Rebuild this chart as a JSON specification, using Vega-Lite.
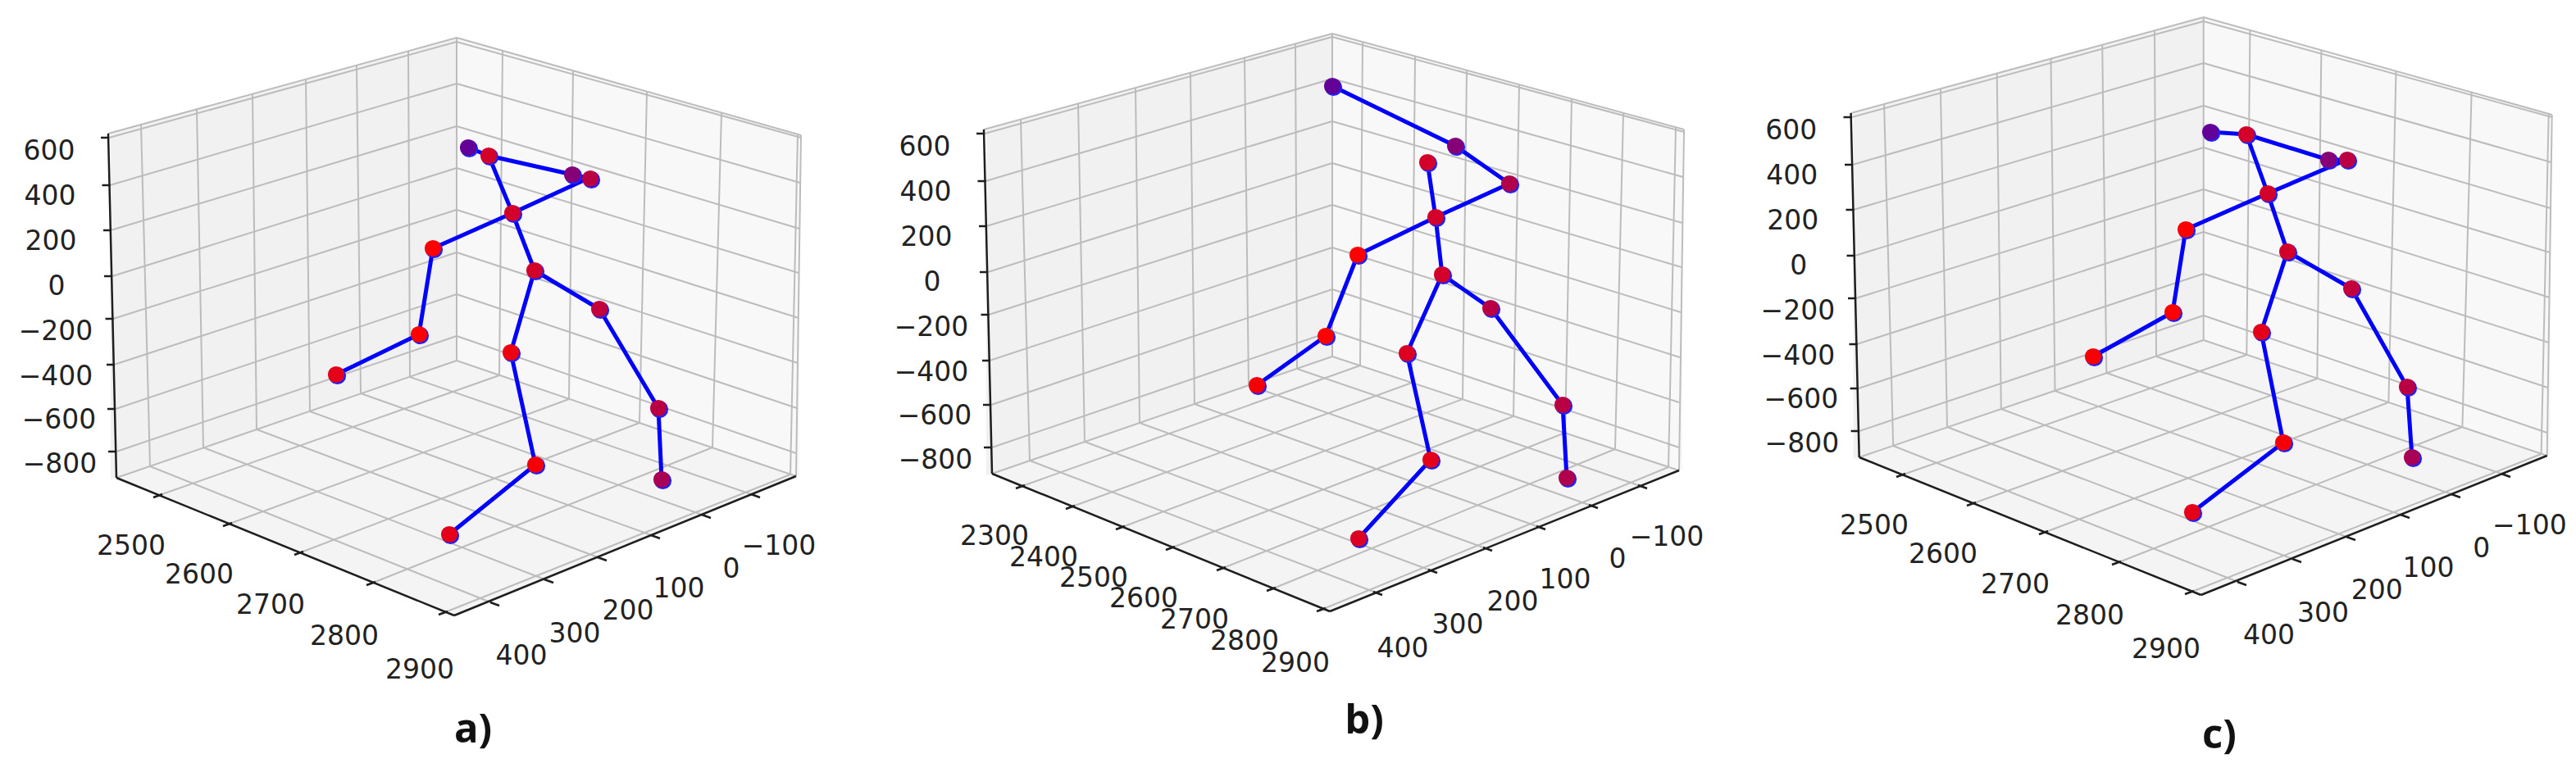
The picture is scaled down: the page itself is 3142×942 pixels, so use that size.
{
  "$schema": "https://vega.github.io/schema/vega-lite/v6.json",
  "description": "Three 3D skeleton poses (a, b, c) drawn on matplotlib-style 3D axes, projected to the page plane.",
  "width": 3142,
  "height": 942,
  "autosize": {"type": "fit", "contains": "padding"},
  "padding": 0,
  "background": "white",
  "config": {"view": {"stroke": null}},
  "datasets": {
    "panes": [
      {"panel": "a", "pane": "left", "x": 135, "y": 162, "y2": 585},
      {"panel": "a", "pane": "left", "x": 557, "y": 46, "y2": 440},
      {"panel": "a", "pane": "right", "x": 557, "y": 46, "y2": 440},
      {"panel": "a", "pane": "right", "x": 975, "y": 165, "y2": 581},
      {"panel": "a", "pane": "floor", "x": 142, "y": 583, "y2": 583},
      {"panel": "a", "pane": "floor", "x": 555, "y": 440, "y2": 751},
      {"panel": "a", "pane": "floor", "x": 971, "y": 581, "y2": 581},
      {"panel": "b", "pane": "left", "x": 1203, "y": 157, "y2": 580},
      {"panel": "b", "pane": "left", "x": 1625, "y": 41, "y2": 435},
      {"panel": "b", "pane": "right", "x": 1625, "y": 41, "y2": 435},
      {"panel": "b", "pane": "right", "x": 2052, "y": 158, "y2": 574},
      {"panel": "b", "pane": "floor", "x": 1210, "y": 578, "y2": 578},
      {"panel": "b", "pane": "floor", "x": 1623, "y": 435, "y2": 746},
      {"panel": "b", "pane": "floor", "x": 2048, "y": 574, "y2": 574},
      {"panel": "c", "pane": "left", "x": 2260.6, "y": 137, "y2": 560},
      {"panel": "c", "pane": "left", "x": 2687.7, "y": 21, "y2": 415},
      {"panel": "c", "pane": "right", "x": 2687.7, "y": 21, "y2": 415},
      {"panel": "c", "pane": "right", "x": 3110.7, "y": 140, "y2": 556},
      {"panel": "c", "pane": "floor", "x": 2267.7, "y": 558, "y2": 558},
      {"panel": "c", "pane": "floor", "x": 2685.7, "y": 415, "y2": 726},
      {"panel": "c", "pane": "floor", "x": 3106.7, "y": 556, "y2": 556}
    ],
    "grid": [
      {"panel": "a", "x": 133, "y": 168, "x2": 557, "y2": 51},
      {"panel": "a", "x": 134, "y": 226, "x2": 557, "y2": 102},
      {"panel": "a", "x": 135, "y": 281, "x2": 557, "y2": 154},
      {"panel": "a", "x": 137, "y": 337, "x2": 557, "y2": 205},
      {"panel": "a", "x": 138, "y": 389, "x2": 557, "y2": 256},
      {"panel": "a", "x": 139, "y": 445, "x2": 557, "y2": 308},
      {"panel": "a", "x": 141, "y": 499, "x2": 557, "y2": 359},
      {"panel": "a", "x": 142, "y": 551, "x2": 557, "y2": 410},
      {"panel": "a", "x": 172, "y": 152, "x2": 183, "y2": 569},
      {"panel": "a", "x": 240, "y": 133, "x2": 248, "y2": 546},
      {"panel": "a", "x": 308, "y": 115, "x2": 313, "y2": 524},
      {"panel": "a", "x": 373, "y": 97, "x2": 378, "y2": 502},
      {"panel": "a", "x": 435, "y": 80, "x2": 440, "y2": 480},
      {"panel": "a", "x": 498, "y": 62, "x2": 500, "y2": 460},
      {"panel": "a", "x": 557, "y": 46, "x2": 557, "y2": 440},
      {"panel": "a", "x": 557, "y": 51, "x2": 977, "y2": 168},
      {"panel": "a", "x": 557, "y": 102, "x2": 976, "y2": 223},
      {"panel": "a", "x": 557, "y": 154, "x2": 975, "y2": 279},
      {"panel": "a", "x": 557, "y": 205, "x2": 974, "y2": 333},
      {"panel": "a", "x": 557, "y": 256, "x2": 974, "y2": 388},
      {"panel": "a", "x": 557, "y": 308, "x2": 973, "y2": 443},
      {"panel": "a", "x": 557, "y": 359, "x2": 972, "y2": 498},
      {"panel": "a", "x": 557, "y": 410, "x2": 971, "y2": 553},
      {"panel": "a", "x": 613, "y": 62, "x2": 609, "y2": 458},
      {"panel": "a", "x": 699, "y": 86, "x2": 694, "y2": 487},
      {"panel": "a", "x": 789, "y": 112, "x2": 780, "y2": 516},
      {"panel": "a", "x": 880, "y": 138, "x2": 869, "y2": 546},
      {"panel": "a", "x": 973, "y": 164, "x2": 964, "y2": 579},
      {"panel": "a", "x": 977, "y": 165, "x2": 971, "y2": 581},
      {"panel": "a", "x": 132, "y": 163, "x2": 557, "y2": 46},
      {"panel": "a", "x": 557, "y": 46, "x2": 977, "y2": 165},
      {"panel": "a", "x": 195, "y": 604, "x2": 609, "y2": 458},
      {"panel": "a", "x": 280, "y": 639, "x2": 694, "y2": 487},
      {"panel": "a", "x": 367, "y": 674, "x2": 780, "y2": 516},
      {"panel": "a", "x": 455, "y": 711, "x2": 869, "y2": 546},
      {"panel": "a", "x": 543, "y": 747, "x2": 964, "y2": 579},
      {"panel": "a", "x": 601, "y": 736, "x2": 183, "y2": 569},
      {"panel": "a", "x": 667, "y": 708, "x2": 248, "y2": 546},
      {"panel": "a", "x": 732, "y": 681, "x2": 313, "y2": 524},
      {"panel": "a", "x": 797, "y": 654, "x2": 378, "y2": 502},
      {"panel": "a", "x": 859, "y": 629, "x2": 440, "y2": 480},
      {"panel": "a", "x": 919, "y": 604, "x2": 500, "y2": 460},
      {"panel": "a", "x": 142, "y": 583, "x2": 557, "y2": 440},
      {"panel": "a", "x": 557, "y": 440, "x2": 971, "y2": 581},

      {"panel": "b", "x": 1201, "y": 163, "x2": 1625, "y2": 45},
      {"panel": "b", "x": 1202, "y": 221, "x2": 1625, "y2": 96},
      {"panel": "b", "x": 1203, "y": 276, "x2": 1625, "y2": 148},
      {"panel": "b", "x": 1205, "y": 332, "x2": 1625, "y2": 199},
      {"panel": "b", "x": 1206, "y": 384, "x2": 1625, "y2": 250},
      {"panel": "b", "x": 1207, "y": 440, "x2": 1625, "y2": 302},
      {"panel": "b", "x": 1209, "y": 494, "x2": 1625, "y2": 353},
      {"panel": "b", "x": 1210, "y": 546, "x2": 1625, "y2": 404},
      {"panel": "b", "x": 1245, "y": 146, "x2": 1256, "y2": 562},
      {"panel": "b", "x": 1315, "y": 126, "x2": 1323, "y2": 539},
      {"panel": "b", "x": 1385, "y": 107, "x2": 1390, "y2": 516},
      {"panel": "b", "x": 1452, "y": 89, "x2": 1457, "y2": 493},
      {"panel": "b", "x": 1518, "y": 70, "x2": 1523, "y2": 470},
      {"panel": "b", "x": 1580, "y": 53, "x2": 1582, "y2": 450},
      {"panel": "b", "x": 1625, "y": 41, "x2": 1625, "y2": 435},
      {"panel": "b", "x": 1625, "y": 45, "x2": 2054, "y2": 161},
      {"panel": "b", "x": 1625, "y": 96, "x2": 2053, "y2": 216},
      {"panel": "b", "x": 1625, "y": 148, "x2": 2052, "y2": 272},
      {"panel": "b", "x": 1625, "y": 199, "x2": 2051, "y2": 326},
      {"panel": "b", "x": 1625, "y": 250, "x2": 2050, "y2": 381},
      {"panel": "b", "x": 1625, "y": 302, "x2": 2049, "y2": 436},
      {"panel": "b", "x": 1625, "y": 353, "x2": 2048, "y2": 491},
      {"panel": "b", "x": 1625, "y": 404, "x2": 2048, "y2": 546},
      {"panel": "b", "x": 1662, "y": 51, "x2": 1659, "y2": 446},
      {"panel": "b", "x": 1726, "y": 69, "x2": 1722, "y2": 467},
      {"panel": "b", "x": 1789, "y": 86, "x2": 1784, "y2": 487},
      {"panel": "b", "x": 1853, "y": 103, "x2": 1846, "y2": 508},
      {"panel": "b", "x": 1917, "y": 121, "x2": 1909, "y2": 528},
      {"panel": "b", "x": 1980, "y": 138, "x2": 1970, "y2": 548},
      {"panel": "b", "x": 2044, "y": 155, "x2": 2035, "y2": 570},
      {"panel": "b", "x": 2054, "y": 158, "x2": 2048, "y2": 574},
      {"panel": "b", "x": 1200, "y": 158, "x2": 1625, "y2": 41},
      {"panel": "b", "x": 1625, "y": 41, "x2": 2054, "y2": 158},
      {"panel": "b", "x": 1247, "y": 593, "x2": 1659, "y2": 446},
      {"panel": "b", "x": 1308, "y": 618, "x2": 1722, "y2": 467},
      {"panel": "b", "x": 1369, "y": 643, "x2": 1784, "y2": 487},
      {"panel": "b", "x": 1430, "y": 668, "x2": 1846, "y2": 508},
      {"panel": "b", "x": 1492, "y": 693, "x2": 1909, "y2": 528},
      {"panel": "b", "x": 1553, "y": 718, "x2": 1970, "y2": 548},
      {"panel": "b", "x": 1614, "y": 743, "x2": 2035, "y2": 570},
      {"panel": "b", "x": 1678, "y": 723, "x2": 1256, "y2": 562},
      {"panel": "b", "x": 1745, "y": 696, "x2": 1323, "y2": 539},
      {"panel": "b", "x": 1812, "y": 669, "x2": 1390, "y2": 516},
      {"panel": "b", "x": 1877, "y": 643, "x2": 1457, "y2": 493},
      {"panel": "b", "x": 1941, "y": 617, "x2": 1523, "y2": 470},
      {"panel": "b", "x": 2001, "y": 593, "x2": 1582, "y2": 450},
      {"panel": "b", "x": 1210, "y": 578, "x2": 1625, "y2": 435},
      {"panel": "b", "x": 1625, "y": 435, "x2": 2048, "y2": 574},

      {"panel": "c", "x": 2258.6, "y": 143, "x2": 2687.7, "y2": 26},
      {"panel": "c", "x": 2259.6, "y": 201, "x2": 2687.7, "y2": 77},
      {"panel": "c", "x": 2260.6, "y": 256, "x2": 2687.7, "y2": 129},
      {"panel": "c", "x": 2262.6, "y": 312, "x2": 2687.7, "y2": 180},
      {"panel": "c", "x": 2263.7, "y": 364, "x2": 2687.7, "y2": 231},
      {"panel": "c", "x": 2264.7, "y": 420, "x2": 2687.7, "y2": 283},
      {"panel": "c", "x": 2266.7, "y": 474, "x2": 2687.7, "y2": 334},
      {"panel": "c", "x": 2267.7, "y": 526, "x2": 2687.7, "y2": 385},
      {"panel": "c", "x": 2298.1, "y": 127, "x2": 2309.2, "y2": 544},
      {"panel": "c", "x": 2366.9, "y": 108, "x2": 2375, "y2": 521},
      {"panel": "c", "x": 2435.7, "y": 90, "x2": 2440.8, "y2": 499},
      {"panel": "c", "x": 2501.5, "y": 72, "x2": 2506.5, "y2": 477},
      {"panel": "c", "x": 2564.2, "y": 55, "x2": 2569.3, "y2": 455},
      {"panel": "c", "x": 2628, "y": 37, "x2": 2630, "y2": 435},
      {"panel": "c", "x": 2687.7, "y": 21, "x2": 2687.7, "y2": 415},
      {"panel": "c", "x": 2687.7, "y": 26, "x2": 3112.7, "y2": 143},
      {"panel": "c", "x": 2687.7, "y": 77, "x2": 3111.7, "y2": 198},
      {"panel": "c", "x": 2687.7, "y": 129, "x2": 3110.7, "y2": 254},
      {"panel": "c", "x": 2687.7, "y": 180, "x2": 3109.7, "y2": 308},
      {"panel": "c", "x": 2687.7, "y": 231, "x2": 3109.7, "y2": 363},
      {"panel": "c", "x": 2687.7, "y": 283, "x2": 3108.7, "y2": 418},
      {"panel": "c", "x": 2687.7, "y": 334, "x2": 3107.7, "y2": 473},
      {"panel": "c", "x": 2687.7, "y": 385, "x2": 3106.7, "y2": 528},
      {"panel": "c", "x": 2744.4, "y": 37, "x2": 2740.3, "y2": 433},
      {"panel": "c", "x": 2831.4, "y": 61, "x2": 2826.3, "y2": 462},
      {"panel": "c", "x": 2922.5, "y": 87, "x2": 2913.4, "y2": 491},
      {"panel": "c", "x": 3014.6, "y": 113, "x2": 3003.4, "y2": 521},
      {"panel": "c", "x": 3108.7, "y": 139, "x2": 3099.6, "y2": 554},
      {"panel": "c", "x": 3112.7, "y": 140, "x2": 3106.7, "y2": 556},
      {"panel": "c", "x": 2257.6, "y": 138, "x2": 2687.7, "y2": 21},
      {"panel": "c", "x": 2687.7, "y": 21, "x2": 3112.7, "y2": 140},
      {"panel": "c", "x": 2321.3, "y": 579, "x2": 2740.3, "y2": 433},
      {"panel": "c", "x": 2407.4, "y": 614, "x2": 2826.3, "y2": 462},
      {"panel": "c", "x": 2495.4, "y": 649, "x2": 2913.4, "y2": 491},
      {"panel": "c", "x": 2584.5, "y": 686, "x2": 3003.4, "y2": 521},
      {"panel": "c", "x": 2673.5, "y": 722, "x2": 3099.6, "y2": 554},
      {"panel": "c", "x": 2732.2, "y": 711, "x2": 2309.2, "y2": 544},
      {"panel": "c", "x": 2799, "y": 683, "x2": 2375, "y2": 521},
      {"panel": "c", "x": 2864.8, "y": 656, "x2": 2440.8, "y2": 499},
      {"panel": "c", "x": 2930.6, "y": 629, "x2": 2506.5, "y2": 477},
      {"panel": "c", "x": 2993.3, "y": 604, "x2": 2569.3, "y2": 455},
      {"panel": "c", "x": 3054, "y": 579, "x2": 2630, "y2": 435},
      {"panel": "c", "x": 2267.7, "y": 558, "x2": 2687.7, "y2": 415},
      {"panel": "c", "x": 2687.7, "y": 415, "x2": 3106.7, "y2": 556}
    ],
    "axes": [
      {"panel": "a", "x": 132, "y": 163, "x2": 142, "y2": 583},
      {"panel": "a", "x": 142, "y": 583, "x2": 554, "y2": 751},
      {"panel": "a", "x": 554, "y": 751, "x2": 971, "y2": 581},
      {"panel": "a", "x": 123, "y": 168, "x2": 133, "y2": 168},
      {"panel": "a", "x": 124.5, "y": 226, "x2": 134.5, "y2": 226},
      {"panel": "a", "x": 126, "y": 281, "x2": 136, "y2": 281},
      {"panel": "a", "x": 127, "y": 337, "x2": 137, "y2": 337},
      {"panel": "a", "x": 128.5, "y": 389, "x2": 138.5, "y2": 389},
      {"panel": "a", "x": 130, "y": 445, "x2": 140, "y2": 445},
      {"panel": "a", "x": 131, "y": 499, "x2": 141, "y2": 499},
      {"panel": "a", "x": 132, "y": 551, "x2": 142, "y2": 551},
      {"panel": "a", "x": 198, "y": 603, "x2": 187, "y2": 607},
      {"panel": "a", "x": 283, "y": 638, "x2": 272, "y2": 642},
      {"panel": "a", "x": 370, "y": 673, "x2": 359, "y2": 677},
      {"panel": "a", "x": 458, "y": 710, "x2": 447, "y2": 714},
      {"panel": "a", "x": 546, "y": 746, "x2": 535, "y2": 750},
      {"panel": "a", "x": 598, "y": 735, "x2": 609, "y2": 739},
      {"panel": "a", "x": 664, "y": 707, "x2": 675, "y2": 711},
      {"panel": "a", "x": 729, "y": 680, "x2": 740, "y2": 684},
      {"panel": "a", "x": 794, "y": 653, "x2": 805, "y2": 657},
      {"panel": "a", "x": 856, "y": 628, "x2": 867, "y2": 632},
      {"panel": "a", "x": 916, "y": 603, "x2": 927, "y2": 607},

      {"panel": "b", "x": 1200, "y": 158, "x2": 1210, "y2": 578},
      {"panel": "b", "x": 1210, "y": 578, "x2": 1622, "y2": 746},
      {"panel": "b", "x": 1622, "y": 746, "x2": 2048, "y2": 574},
      {"panel": "b", "x": 1191, "y": 163, "x2": 1201, "y2": 163},
      {"panel": "b", "x": 1192.5, "y": 221, "x2": 1202.5, "y2": 221},
      {"panel": "b", "x": 1194, "y": 276, "x2": 1204, "y2": 276},
      {"panel": "b", "x": 1195, "y": 332, "x2": 1205, "y2": 332},
      {"panel": "b", "x": 1196.5, "y": 384, "x2": 1206.5, "y2": 384},
      {"panel": "b", "x": 1198, "y": 440, "x2": 1208, "y2": 440},
      {"panel": "b", "x": 1199, "y": 494, "x2": 1209, "y2": 494},
      {"panel": "b", "x": 1200, "y": 546, "x2": 1210, "y2": 546},
      {"panel": "b", "x": 1250, "y": 592, "x2": 1239, "y2": 596},
      {"panel": "b", "x": 1311, "y": 617, "x2": 1300, "y2": 621},
      {"panel": "b", "x": 1372, "y": 642, "x2": 1361, "y2": 646},
      {"panel": "b", "x": 1433, "y": 667, "x2": 1422, "y2": 671},
      {"panel": "b", "x": 1495, "y": 692, "x2": 1484, "y2": 696},
      {"panel": "b", "x": 1556, "y": 717, "x2": 1545, "y2": 721},
      {"panel": "b", "x": 1617, "y": 742, "x2": 1606, "y2": 746},
      {"panel": "b", "x": 1675, "y": 722, "x2": 1686, "y2": 726},
      {"panel": "b", "x": 1742, "y": 695, "x2": 1753, "y2": 699},
      {"panel": "b", "x": 1809, "y": 668, "x2": 1820, "y2": 672},
      {"panel": "b", "x": 1874, "y": 642, "x2": 1885, "y2": 646},
      {"panel": "b", "x": 1938, "y": 616, "x2": 1949, "y2": 620},
      {"panel": "b", "x": 1998, "y": 592, "x2": 2009, "y2": 596},

      {"panel": "c", "x": 2257.6, "y": 138, "x2": 2267.7, "y2": 558},
      {"panel": "c", "x": 2267.7, "y": 558, "x2": 2684.6, "y2": 726},
      {"panel": "c", "x": 2684.6, "y": 726, "x2": 3106.7, "y2": 556},
      {"panel": "c", "x": 2248.5, "y": 143, "x2": 2258.6, "y2": 143},
      {"panel": "c", "x": 2250, "y": 201, "x2": 2260, "y2": 201},
      {"panel": "c", "x": 2251.5, "y": 256, "x2": 2261.6, "y2": 256},
      {"panel": "c", "x": 2252.5, "y": 312, "x2": 2262.6, "y2": 312},
      {"panel": "c", "x": 2254, "y": 364, "x2": 2264, "y2": 364},
      {"panel": "c", "x": 2255.5, "y": 420, "x2": 2265.6, "y2": 420},
      {"panel": "c", "x": 2256.6, "y": 474, "x2": 2266.7, "y2": 474},
      {"panel": "c", "x": 2257.6, "y": 526, "x2": 2267.7, "y2": 526},
      {"panel": "c", "x": 2324, "y": 578, "x2": 2313, "y2": 582},
      {"panel": "c", "x": 2410, "y": 613, "x2": 2399, "y2": 617},
      {"panel": "c", "x": 2498, "y": 648, "x2": 2487, "y2": 652},
      {"panel": "c", "x": 2587, "y": 685, "x2": 2576, "y2": 689},
      {"panel": "c", "x": 2676, "y": 721, "x2": 2665, "y2": 725},
      {"panel": "c", "x": 2729, "y": 710, "x2": 2740, "y2": 714},
      {"panel": "c", "x": 2796, "y": 682, "x2": 2807, "y2": 686},
      {"panel": "c", "x": 2862, "y": 655, "x2": 2873, "y2": 659},
      {"panel": "c", "x": 2928, "y": 628, "x2": 2939, "y2": 632},
      {"panel": "c", "x": 2990, "y": 603, "x2": 3001, "y2": 607},
      {"panel": "c", "x": 3051, "y": 578, "x2": 3062, "y2": 582}
    ],
    "labels": [
      {"panel": "a", "t": "600", "x": 60, "y": 185},
      {"panel": "a", "t": "400", "x": 61, "y": 240},
      {"panel": "a", "t": "200", "x": 62, "y": 295},
      {"panel": "a", "t": "0", "x": 69, "y": 350},
      {"panel": "a", "t": "−200", "x": 68, "y": 405},
      {"panel": "a", "t": "−400", "x": 68, "y": 460},
      {"panel": "a", "t": "−600", "x": 72, "y": 513},
      {"panel": "a", "t": "−800", "x": 73, "y": 567},
      {"panel": "a", "t": "2500", "x": 160, "y": 667},
      {"panel": "a", "t": "2600", "x": 243, "y": 702},
      {"panel": "a", "t": "2700", "x": 330, "y": 739},
      {"panel": "a", "t": "2800", "x": 420, "y": 777},
      {"panel": "a", "t": "2900", "x": 512, "y": 818},
      {"panel": "a", "t": "400", "x": 636, "y": 801},
      {"panel": "a", "t": "300", "x": 701, "y": 774},
      {"panel": "a", "t": "200", "x": 766, "y": 746},
      {"panel": "a", "t": "100", "x": 828, "y": 719},
      {"panel": "a", "t": "0", "x": 892, "y": 695},
      {"panel": "a", "t": "−100", "x": 950, "y": 667},

      {"panel": "b", "t": "600", "x": 1128, "y": 180},
      {"panel": "b", "t": "400", "x": 1129, "y": 235},
      {"panel": "b", "t": "200", "x": 1130, "y": 290},
      {"panel": "b", "t": "0", "x": 1137, "y": 345},
      {"panel": "b", "t": "−200", "x": 1136, "y": 400},
      {"panel": "b", "t": "−400", "x": 1136, "y": 455},
      {"panel": "b", "t": "−600", "x": 1140, "y": 508},
      {"panel": "b", "t": "−800", "x": 1141, "y": 562},
      {"panel": "b", "t": "2300", "x": 1213, "y": 655},
      {"panel": "b", "t": "2400", "x": 1273, "y": 681},
      {"panel": "b", "t": "2500", "x": 1334, "y": 706},
      {"panel": "b", "t": "2600", "x": 1395, "y": 731},
      {"panel": "b", "t": "2700", "x": 1457, "y": 757},
      {"panel": "b", "t": "2800", "x": 1518, "y": 783},
      {"panel": "b", "t": "2900", "x": 1580, "y": 810},
      {"panel": "b", "t": "400", "x": 1711, "y": 792},
      {"panel": "b", "t": "300", "x": 1778, "y": 763},
      {"panel": "b", "t": "200", "x": 1845, "y": 735},
      {"panel": "b", "t": "100", "x": 1909, "y": 708},
      {"panel": "b", "t": "0", "x": 1973, "y": 683},
      {"panel": "b", "t": "−100", "x": 2033, "y": 656},

      {"panel": "c", "t": "600", "x": 2184.7, "y": 160},
      {"panel": "c", "t": "400", "x": 2185.7, "y": 215},
      {"panel": "c", "t": "200", "x": 2186.7, "y": 270},
      {"panel": "c", "t": "0", "x": 2193.8, "y": 325},
      {"panel": "c", "t": "−200", "x": 2192.8, "y": 380},
      {"panel": "c", "t": "−400", "x": 2192.8, "y": 435},
      {"panel": "c", "t": "−600", "x": 2196.9, "y": 488},
      {"panel": "c", "t": "−800", "x": 2197.9, "y": 542},
      {"panel": "c", "t": "2500", "x": 2285.9, "y": 642},
      {"panel": "c", "t": "2600", "x": 2369.9, "y": 677},
      {"panel": "c", "t": "2700", "x": 2458, "y": 714},
      {"panel": "c", "t": "2800", "x": 2549, "y": 752},
      {"panel": "c", "t": "2900", "x": 2642, "y": 793},
      {"panel": "c", "t": "400", "x": 2767.6, "y": 776},
      {"panel": "c", "t": "300", "x": 2833.4, "y": 749},
      {"panel": "c", "t": "200", "x": 2899.2, "y": 721},
      {"panel": "c", "t": "100", "x": 2961.9, "y": 694},
      {"panel": "c", "t": "0", "x": 3026.7, "y": 670},
      {"panel": "c", "t": "−100", "x": 3085.4, "y": 642}
    ],
    "titles": [
      {"panel": "a", "t": "a)", "x": 577, "y": 891},
      {"panel": "b", "t": "b)", "x": 1664, "y": 880},
      {"panel": "c", "t": "c)", "x": 2707, "y": 898}
    ],
    "bones": [
      {"panel": "a", "x": 571, "y": 180, "x2": 596, "y2": 190},
      {"panel": "a", "x": 596, "y": 190, "x2": 698, "y2": 213},
      {"panel": "a", "x": 698, "y": 213, "x2": 720, "y2": 218},
      {"panel": "a", "x": 712, "y": 220, "x2": 625, "y2": 260},
      {"panel": "a", "x": 596, "y": 190, "x2": 625, "y2": 260},
      {"panel": "a", "x": 625, "y": 260, "x2": 528, "y2": 303},
      {"panel": "a", "x": 528, "y": 303, "x2": 511, "y2": 408},
      {"panel": "a", "x": 511, "y": 408, "x2": 410, "y2": 457},
      {"panel": "a", "x": 625, "y": 260, "x2": 652, "y2": 330},
      {"panel": "a", "x": 652, "y": 330, "x2": 731, "y2": 377},
      {"panel": "a", "x": 731, "y": 377, "x2": 803, "y2": 498},
      {"panel": "a", "x": 803, "y": 498, "x2": 807, "y2": 585},
      {"panel": "a", "x": 652, "y": 330, "x2": 623, "y2": 430},
      {"panel": "a", "x": 623, "y": 430, "x2": 653, "y2": 567},
      {"panel": "a", "x": 653, "y": 567, "x2": 548, "y2": 652},

      {"panel": "b", "x": 1625, "y": 105, "x2": 1775, "y2": 178},
      {"panel": "b", "x": 1775, "y": 178, "x2": 1841, "y2": 224},
      {"panel": "b", "x": 1841, "y": 224, "x2": 1751, "y2": 265},
      {"panel": "b", "x": 1741, "y": 198, "x2": 1751, "y2": 265},
      {"panel": "b", "x": 1751, "y": 265, "x2": 1656, "y2": 311},
      {"panel": "b", "x": 1656, "y": 311, "x2": 1617, "y2": 410},
      {"panel": "b", "x": 1617, "y": 410, "x2": 1533, "y2": 470},
      {"panel": "b", "x": 1751, "y": 265, "x2": 1759, "y2": 335},
      {"panel": "b", "x": 1759, "y": 335, "x2": 1818, "y2": 376},
      {"panel": "b", "x": 1818, "y": 376, "x2": 1906, "y2": 494},
      {"panel": "b", "x": 1906, "y": 494, "x2": 1911, "y2": 583},
      {"panel": "b", "x": 1759, "y": 335, "x2": 1716, "y2": 431},
      {"panel": "b", "x": 1716, "y": 431, "x2": 1745, "y2": 561},
      {"panel": "b", "x": 1745, "y": 561, "x2": 1657, "y2": 657},

      {"panel": "c", "x": 2696, "y": 161, "x2": 2740, "y2": 164},
      {"panel": "c", "x": 2740, "y": 164, "x2": 2840, "y2": 195},
      {"panel": "c", "x": 2840, "y": 195, "x2": 2863, "y2": 195},
      {"panel": "c", "x": 2855, "y": 198, "x2": 2766, "y2": 236},
      {"panel": "c", "x": 2740, "y": 164, "x2": 2766, "y2": 236},
      {"panel": "c", "x": 2766, "y": 236, "x2": 2666, "y2": 280},
      {"panel": "c", "x": 2666, "y": 280, "x2": 2650, "y2": 381},
      {"panel": "c", "x": 2650, "y": 381, "x2": 2553, "y2": 435},
      {"panel": "c", "x": 2766, "y": 236, "x2": 2790, "y2": 307},
      {"panel": "c", "x": 2790, "y": 307, "x2": 2868, "y2": 352},
      {"panel": "c", "x": 2868, "y": 352, "x2": 2936, "y2": 472},
      {"panel": "c", "x": 2936, "y": 472, "x2": 2942, "y2": 558},
      {"panel": "c", "x": 2790, "y": 307, "x2": 2758, "y2": 405},
      {"panel": "c", "x": 2758, "y": 405, "x2": 2785, "y2": 540},
      {"panel": "c", "x": 2785, "y": 540, "x2": 2674, "y2": 625}
    ],
    "joints": [
      {"panel": "a", "j": 1, "x": 571, "y": 180, "depth": 0.9},
      {"panel": "a", "j": 2, "x": 596, "y": 190, "depth": 0.25},
      {"panel": "a", "j": 3, "x": 698, "y": 213, "depth": 0.7},
      {"panel": "a", "j": 4, "x": 720, "y": 218, "depth": 0.4},
      {"panel": "a", "j": 5, "x": 625, "y": 260, "depth": 0.25},
      {"panel": "a", "j": 6, "x": 528, "y": 303, "depth": 0.0},
      {"panel": "a", "j": 7, "x": 511, "y": 408, "depth": 0.0},
      {"panel": "a", "j": 8, "x": 410, "y": 457, "depth": 0.15},
      {"panel": "a", "j": 9, "x": 652, "y": 330, "depth": 0.25},
      {"panel": "a", "j": 10, "x": 731, "y": 377, "depth": 0.35},
      {"panel": "a", "j": 11, "x": 623, "y": 430, "depth": 0.1},
      {"panel": "a", "j": 12, "x": 803, "y": 498, "depth": 0.4},
      {"panel": "a", "j": 13, "x": 807, "y": 585, "depth": 0.5},
      {"panel": "a", "j": 14, "x": 653, "y": 567, "depth": 0.05},
      {"panel": "a", "j": 15, "x": 548, "y": 652, "depth": 0.15},

      {"panel": "b", "j": 1, "x": 1625, "y": 105, "depth": 0.9},
      {"panel": "b", "j": 2, "x": 1775, "y": 178, "depth": 0.7},
      {"panel": "b", "j": 3, "x": 1741, "y": 198, "depth": 0.25},
      {"panel": "b", "j": 4, "x": 1841, "y": 224, "depth": 0.45},
      {"panel": "b", "j": 5, "x": 1751, "y": 265, "depth": 0.25},
      {"panel": "b", "j": 6, "x": 1656, "y": 311, "depth": 0.0},
      {"panel": "b", "j": 7, "x": 1617, "y": 410, "depth": 0.0},
      {"panel": "b", "j": 8, "x": 1533, "y": 470, "depth": 0.05},
      {"panel": "b", "j": 9, "x": 1759, "y": 335, "depth": 0.25},
      {"panel": "b", "j": 10, "x": 1818, "y": 376, "depth": 0.4},
      {"panel": "b", "j": 11, "x": 1716, "y": 431, "depth": 0.2},
      {"panel": "b", "j": 12, "x": 1906, "y": 494, "depth": 0.4},
      {"panel": "b", "j": 13, "x": 1911, "y": 583, "depth": 0.45},
      {"panel": "b", "j": 14, "x": 1745, "y": 561, "depth": 0.15},
      {"panel": "b", "j": 15, "x": 1657, "y": 657, "depth": 0.2},

      {"panel": "c", "j": 1, "x": 2696, "y": 161, "depth": 0.9},
      {"panel": "c", "j": 2, "x": 2740, "y": 164, "depth": 0.25},
      {"panel": "c", "j": 3, "x": 2840, "y": 195, "depth": 0.7},
      {"panel": "c", "j": 4, "x": 2863, "y": 195, "depth": 0.4},
      {"panel": "c", "j": 5, "x": 2766, "y": 236, "depth": 0.25},
      {"panel": "c", "j": 6, "x": 2666, "y": 280, "depth": 0.0},
      {"panel": "c", "j": 7, "x": 2650, "y": 381, "depth": 0.0},
      {"panel": "c", "j": 8, "x": 2553, "y": 435, "depth": 0.05},
      {"panel": "c", "j": 9, "x": 2790, "y": 307, "depth": 0.25},
      {"panel": "c", "j": 10, "x": 2868, "y": 352, "depth": 0.35},
      {"panel": "c", "j": 11, "x": 2758, "y": 405, "depth": 0.15},
      {"panel": "c", "j": 12, "x": 2936, "y": 472, "depth": 0.4},
      {"panel": "c", "j": 13, "x": 2942, "y": 558, "depth": 0.5},
      {"panel": "c", "j": 14, "x": 2785, "y": 540, "depth": 0.05},
      {"panel": "c", "j": 15, "x": 2674, "y": 625, "depth": 0.15}
    ]
  },
  "encoding": {
    "x": {"field": "x", "type": "quantitative", "scale": {"domain": [0, 3142], "nice": false, "zero": false}, "axis": null},
    "y": {"field": "y", "type": "quantitative", "scale": {"domain": [0, 942], "nice": false, "zero": false, "reverse": true}, "axis": null}
  },
  "layer": [
    {
      "data": {"name": "panes"},
      "mark": {"type": "area", "opacity": 1},
      "encoding": {
        "y2": {"field": "y2"},
        "color": {"field": "pane", "type": "nominal", "scale": {"domain": ["left", "right", "floor"], "range": ["#f1f1f1", "#f8f8f8", "#f4f4f4"]}, "legend": null},
        "detail": {"field": "panel"}
      }
    },
    {
      "data": {"name": "grid"},
      "mark": {"type": "rule", "color": "#bcbcbc", "strokeWidth": 2},
      "encoding": {"x2": {"field": "x2"}, "y2": {"field": "y2"}}
    },
    {
      "data": {"name": "axes"},
      "mark": {"type": "rule", "color": "#1e1e1e", "strokeWidth": 2.5},
      "encoding": {"x2": {"field": "x2"}, "y2": {"field": "y2"}}
    },
    {
      "data": {"name": "labels"},
      "mark": {"type": "text", "font": "DejaVu Sans", "fontSize": 33, "color": "#222222", "align": "center", "baseline": "middle"},
      "encoding": {"text": {"field": "t"}}
    },
    {
      "data": {"name": "titles"},
      "mark": {"type": "text", "font": "Open Sans", "fontSize": 49, "fontWeight": "bold", "color": "#111111", "align": "center", "baseline": "middle"},
      "encoding": {"text": {"field": "t"}}
    },
    {
      "data": {"name": "bones"},
      "mark": {"type": "rule", "color": "#0000ff", "strokeWidth": 5, "strokeCap": "round"},
      "encoding": {"x2": {"field": "x2"}, "y2": {"field": "y2"}}
    },
    {
      "data": {"name": "joints"},
      "mark": {"type": "point", "shape": "circle", "filled": true, "size": 450, "color": "#2020ff", "opacity": 1, "xOffset": 1.5, "yOffset": 1.5},
      "encoding": {}
    },
    {
      "data": {"name": "joints"},
      "mark": {"type": "point", "shape": "circle", "filled": true, "size": 410, "strokeWidth": 0, "opacity": 1},
      "encoding": {
        "fill": {"field": "depth", "type": "quantitative", "scale": {"domain": [0, 1], "range": ["#ff0000", "#5000a8"], "interpolate": "rgb"}, "legend": null}
      }
    }
  ]
}
